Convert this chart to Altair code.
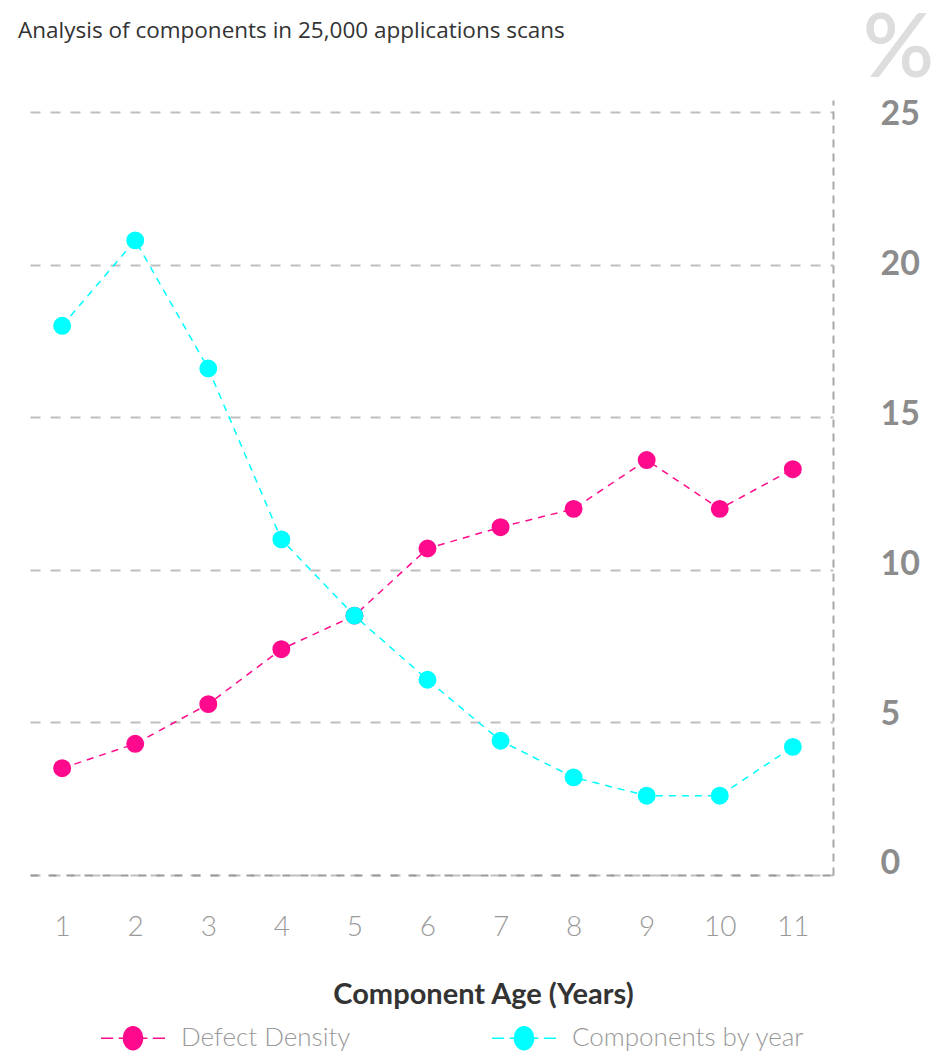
import altair as alt
import pandas as pd

years = list(range(1, 12))
defect_density = [3.5, 4.3, 5.6, 7.4, 8.5, 10.7, 11.4, 12.0, 13.6, 12.0, 13.3]
components_by_year = [18.0, 20.8, 16.6, 11.0, 8.5, 6.4, 4.4, 3.2, 2.6, 2.6, 4.2]
series_names = ["Defect Density", "Components by year"]
series_colors = ["#ff0a8c", "#00ffff"]
y_ticks = [0, 5, 10, 15, 20, 25]
title_text = "Analysis of components in 25,000 applications scans"

rows = []
for name, vals in zip(series_names, [defect_density, components_by_year]):
    for yr, v in zip(years, vals):
        rows.append({"Year": yr, "Value": v, "Series": name})
df = pd.DataFrame(rows)

FONT = "Lato"

x_enc = alt.X(
    "Year:Q",
    scale=alt.Scale(domain=[0.56, 11.55], nice=False, zero=False),
    axis=alt.Axis(
        values=years, title="Component Age (Years)", grid=False, ticks=False,
        labelPadding=38, labelFontSize=28, labelFont=FONT, labelFontWeight=300,
        labelColor="#999999", labelBaseline="top",
        domain=True, domainColor="#9a9a9a", domainDash=[8, 10], domainWidth=2,
        titleFont=FONT, titleFontSize=29, titleFontWeight="bold", titleColor="#333333",
        titleX=453, titleY=128, titleBaseline="alphabetic", titleAnchor="middle",
    ),
)
# main value scale: gridlines only
y_main = alt.Y(
    "Value:Q",
    scale=alt.Scale(domain=[0, 25.4], nice=False),
    axis=alt.Axis(
        orient="left", values=y_ticks, ticks=False, labels=False, domain=False,
        grid=True, gridColor="#bfbfbf", gridDash=[10, 10], gridWidth=2, title=None,
    ),
)
# label axis on the right
y_lab = alt.Y(
    "Value:Q",
    scale=alt.Scale(domain=[-0.37, 25.5], nice=False),
    axis=alt.Axis(
        orient="right", values=y_ticks, ticks=False, labelPadding=47, grid=False,
        labelFont=FONT, labelFontSize=34, labelFontWeight="bold", labelColor="#8c8c8c",
        labelAlign="left", labelBaseline="middle",
        domain=True, domainColor="#a8a8a8", domainDash=[8, 6], domainWidth=2,
        title="%", titleAngle=0, titleFont=FONT, titleFontSize=88, titleFontWeight=600,
        titleColor="#dddddd", titleX=65, titleY=-24, titleAlign="center",
        titleBaseline="alphabetic",
    ),
)

cscale = alt.Scale(domain=series_names, range=series_colors)
symbol_path = ("M-1,0L-0.62,0M-0.45,0L0.45,0M0.62,0L1,0"
               "M-0.3,0A0.3,0.36,0,1,0,0.3,0A0.3,0.36,0,1,0,-0.3,0Z")
legend = alt.Legend(
    title=None, orient="none", direction="horizontal", legendX=70, legendY=905,
    symbolType=symbol_path, symbolSize=4096, symbolStrokeWidth=1.5,
    labelFont=FONT, labelFontSize=26, labelFontWeight=300, labelColor="#999999",
    labelOffset=15, columnPadding=138, labelLimit=400,
)

base = alt.Chart(df)
lines = base.mark_line(strokeWidth=1.5, strokeDash=[7, 6]).encode(
    x=x_enc, y=y_main,
    color=alt.Color("Series:N", scale=cscale, legend=None),
    detail="Series:N",
)
points = base.mark_point(filled=True, size=270, opacity=1, strokeWidth=1.5).encode(
    x=x_enc, y=y_main,
    fill=alt.Fill("Series:N", scale=cscale, legend=legend),
    stroke=alt.Stroke("Series:N", scale=cscale, legend=legend),
)
main = alt.layer(lines, points).resolve_scale(color="independent")

label_axis = base.mark_point(opacity=0).encode(x=x_enc, y=y_lab)

title_layer = alt.Chart(pd.DataFrame({"t": [title_text]})).mark_text(
    align="left", baseline="alphabetic", font="Open Sans", fontSize=22.5, color="#333333"
).encode(x=alt.value(-12), y=alt.value(-62), text="t:N")

chart = alt.layer(main, label_axis, title_layer).resolve_scale(
    y="independent"
).properties(
    width=803, height=775,
    autosize=alt.AutoSizeParams(type="none"),
    padding={"left": 22, "top": 92, "right": 107, "bottom": 181},
).configure_view(stroke=None)

chart.save("out.html", embed_options={"renderer": "svg", "actions": False})
